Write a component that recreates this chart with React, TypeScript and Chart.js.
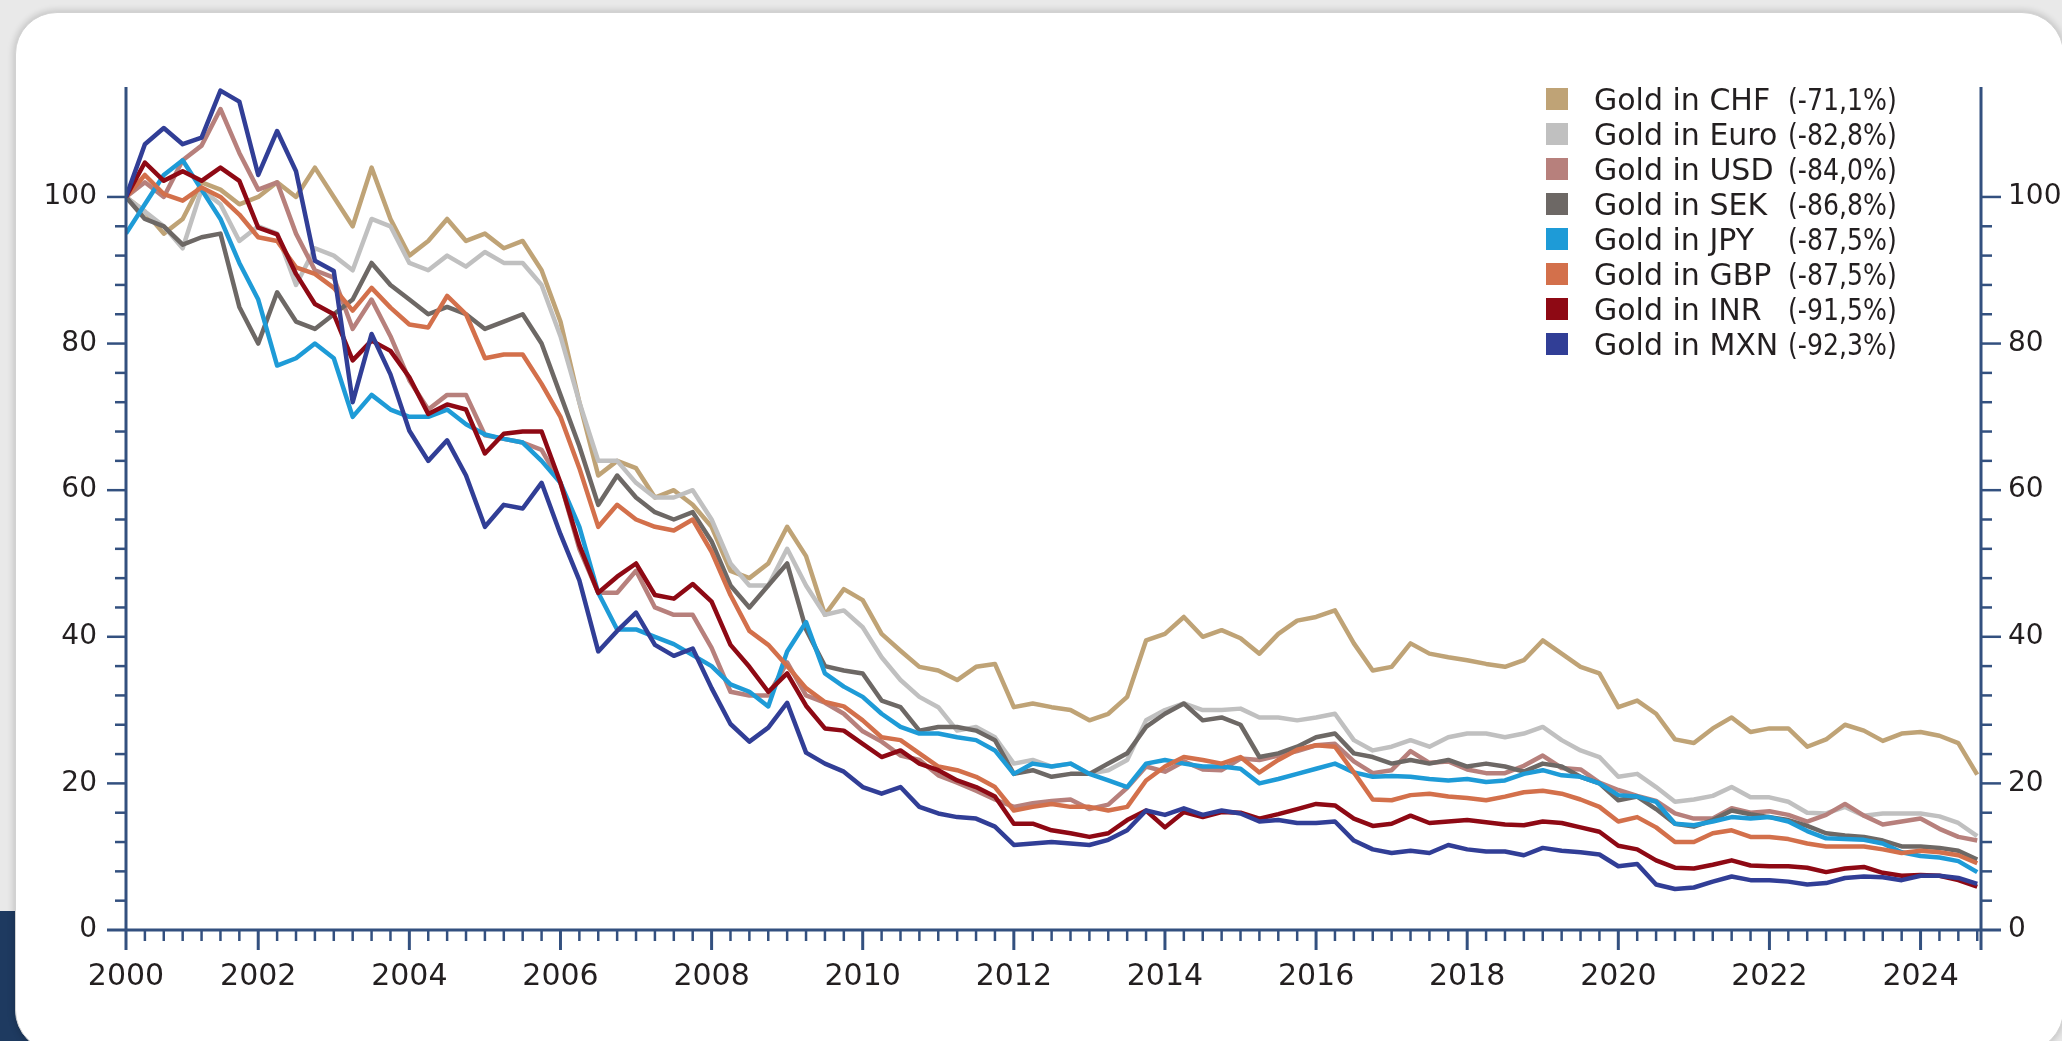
import React, { useEffect, useRef } from "react";
import { Chart, registerables } from "chart.js";

Chart.register(...registerables);

// ---------- data ----------
const quarterDates: number[] = [
  2000.25, 2000.5, 2000.75, 2001.0, 2001.25, 2001.5, 2001.75, 2002.0, 2002.25, 2002.5,
  2002.75, 2003.0, 2003.25, 2003.5, 2003.75, 2004.0, 2004.25, 2004.5, 2004.75, 2005.0,
  2005.25, 2005.5, 2005.75, 2006.0, 2006.25, 2006.5, 2006.75, 2007.0, 2007.25, 2007.5,
  2007.75, 2008.0, 2008.25, 2008.5, 2008.75, 2009.0, 2009.25, 2009.5, 2009.75, 2010.0,
  2010.25, 2010.5, 2010.75, 2011.0, 2011.25, 2011.5, 2011.75, 2012.0, 2012.25, 2012.5,
  2012.75, 2013.0, 2013.25, 2013.5, 2013.75, 2014.0, 2014.25, 2014.5, 2014.75, 2015.0,
  2015.25, 2015.5, 2015.75, 2016.0, 2016.25, 2016.5, 2016.75, 2017.0, 2017.25, 2017.5,
  2017.75, 2018.0, 2018.25, 2018.5, 2018.75, 2019.0, 2019.25, 2019.5, 2019.75, 2020.0,
  2020.25, 2020.5, 2020.75, 2021.0, 2021.25, 2021.5, 2021.75, 2022.0, 2022.25, 2022.5,
  2022.75, 2023.0, 2023.25, 2023.5, 2023.75, 2024.0, 2024.25, 2024.5, 2024.75,
];

const seriesNames: string[] = [
  "Gold in CHF", "Gold in Euro", "Gold in USD", "Gold in SEK",
  "Gold in JPY", "Gold in GBP", "Gold in INR", "Gold in MXN",
];
const seriesChanges: string[] = [
  "(-71,1%)", "(-82,8%)", "(-84,0%)", "(-86,8%)",
  "(-87,5%)", "(-87,5%)", "(-91,5%)", "(-92,3%)",
];

const chfValues: number[] = [
  100, 98, 95, 97, 102, 101, 99, 100, 102, 100,
  104, 100, 96, 104, 97, 92, 94, 97, 94, 95,
  93, 94, 90, 83, 72, 62, 64, 63, 59, 60,
  58, 55, 49, 48, 50, 55, 51, 43, 46.5, 45,
  40.4, 38.1, 35.9, 35.4, 34.1, 35.9, 36.3, 30.4, 30.9, 30.4,
  30, 28.6, 29.5, 31.8, 39.5, 40.4, 42.7, 40, 40.9, 39.8,
  37.7, 40.4, 42.2, 42.7, 43.6, 39.1, 35.4, 35.9, 39.1, 37.7,
  37.2, 36.8, 36.3, 35.9, 36.8, 39.5, 37.7, 35.9, 35, 30.4,
  31.3, 29.5, 26, 25.5, 27.5, 29, 27, 27.5, 27.5, 25,
  26, 28, 27.2, 25.8, 26.8, 27, 26.5, 25.5, 21.2,
];
const euroValues: number[] = [
  100, 98, 96, 93, 101, 99, 94, 96, 95, 88,
  93, 92, 90, 97, 96, 91, 90, 92, 90.5, 92.5,
  91, 91, 88, 81, 72, 64, 64, 61, 59, 59,
  60, 56, 50, 47, 47, 52, 47, 43, 43.6, 41.3,
  37.2, 34.1, 31.8, 30.4, 27.2, 27.7, 26.3, 22.7, 23.2, 22.3,
  22.7, 21.3, 21.8, 23.2, 28.6, 30, 30.9, 30, 30, 30.2,
  29, 29, 28.6, 29, 29.5, 25.9, 24.5, 25, 25.9, 25,
  26.3, 26.8, 26.8, 26.3, 26.8, 27.7, 25.9, 24.5, 23.6, 20.9,
  21.3, 19.5, 17.5, 17.8, 18.3, 19.5, 18.1, 18.1, 17.5, 16,
  15.9, 16.8, 15.6, 15.9, 15.9, 15.9, 15.5, 14.6, 12.8,
];
const usdValues: number[] = [
  100, 102, 100, 105, 107, 112, 106, 101, 102, 95,
  90, 89, 82, 86, 81, 75, 71, 73, 73, 67.5,
  67, 66.5, 65.5, 61, 52, 46, 46, 49, 44, 43,
  43, 38.5, 32.5, 32, 32, 36.5, 32, 31, 29.5, 27.1,
  25.7, 23.8, 23.2, 21.1, 20.1, 19, 17.8, 16.8, 17.3, 17.6,
  17.8, 16.5, 17.1, 19.4, 22.3, 21.6, 23, 21.9, 21.8, 23.4,
  23.2, 23.8, 24.4, 25.2, 25.4, 23, 21.4, 21.8, 24.4, 22.8,
  23, 21.9, 21.4, 21.4, 22.4, 23.8, 22.1, 21.9, 20.1, 19.1,
  18.3, 17.6, 15.9, 15.2, 15.2, 16.6, 16, 16.2, 15.7, 14.8,
  15.7, 17.2, 15.6, 14.4, 14.8, 15.2, 13.8, 12.7, 12.2,
];
const sekValues: number[] = [
  100, 97, 96, 93.5, 94.5, 95, 85, 80, 87, 83,
  82, 84, 86, 91, 88, 86, 84, 85, 84, 82,
  83, 84, 80, 73, 66, 58, 62, 59, 57, 56,
  57, 53, 47, 44, 47, 50, 41, 36, 35.4, 35,
  31.3, 30.4, 27.2, 27.7, 27.7, 27.2, 25.9, 21.3, 21.8, 20.9,
  21.3, 21.3, 22.7, 24.1, 27.7, 29.5, 30.9, 28.6, 29, 28,
  23.6, 24.1, 25, 26.3, 26.8, 24.1, 23.6, 22.7, 23.2, 22.7,
  23.2, 22.3, 22.7, 22.3, 21.6, 22.7, 22.3, 20.9, 20, 17.7,
  18.2, 16.5, 14.5, 14.1, 15, 16.3, 15.8, 15.4, 15, 14.2,
  13.2, 12.9, 12.7, 12.2, 11.4, 11.4, 11.2, 10.8, 9.6,
];
const jpyValues: number[] = [
  95, 99, 103, 105, 101, 97, 91, 86, 77, 78,
  80, 78, 70, 73, 71, 70, 70, 71, 69, 67.6,
  67, 66.5, 64, 61, 55, 46, 41, 41, 40, 39,
  37.5, 36, 33.5, 32.5, 30.5, 38, 42, 35, 33.2, 31.8,
  29.5, 27.7, 26.8, 26.8, 26.3, 25.9, 24.5, 21.3, 22.7, 22.3,
  22.7, 21.3, 20.4, 19.5, 22.7, 23.2, 22.7, 22.3, 22.3, 22,
  20, 20.6, 21.3, 22, 22.7, 21.5, 20.9, 21, 20.9, 20.6,
  20.4, 20.6, 20.2, 20.4, 21.3, 21.8, 21.1, 20.9, 20, 18.4,
  18.2, 17.5, 14.5, 14.3, 14.8, 15.4, 15.2, 15.4, 14.8, 13.5,
  12.5, 12.4, 12.3, 11.8, 10.6, 10.1, 9.9, 9.4, 7.9,
];
const gbpValues: number[] = [
  100, 103, 100.4, 99.5, 101.3, 100, 97.6, 94.5, 94, 90.4,
  89.5, 87.6, 84.5, 87.6, 84.9, 82.6, 82.2, 86.5, 84, 78,
  78.5, 78.5, 74.5, 70, 63, 55, 58, 56, 55, 54.5,
  56, 51.6, 45.7, 40.8, 38.9, 36, 33, 31.1, 30.5, 28.6,
  26.3, 25.9, 24.1, 22.3, 21.8, 20.9, 19.5, 16.3, 16.8, 17.2,
  16.8, 16.8, 16.3, 16.8, 20.4, 22.3, 23.6, 23.2, 22.7, 23.6,
  21.5, 23.2, 24.6, 25.2, 25, 21.5, 17.8, 17.7, 18.4, 18.6,
  18.2, 18, 17.7, 18.2, 18.8, 19, 18.6, 17.8, 16.8, 14.8,
  15.4, 14, 12, 12, 13.2, 13.6, 12.7, 12.7, 12.4, 11.8,
  11.4, 11.4, 11.4, 11, 10.5, 10.8, 10.6, 10.2, 9.1,
];
const inrValues: number[] = [
  100, 104.7, 102.2, 103.5, 102.2, 104, 102.2, 95.8, 94.9, 89.5,
  85.4, 84, 77.7, 80.4, 79, 75.4, 70.4, 71.7, 71, 65,
  67.7, 68, 68, 61, 52.5, 46, 48.2, 50, 45.7, 45.2,
  47.2, 44.8, 38.9, 35.9, 32.5, 35, 30.6, 27.5, 27.2, 25.4,
  23.6, 24.5, 22.7, 21.8, 20.4, 19.5, 18.2, 14.5, 14.5, 13.6,
  13.2, 12.7, 13.2, 15, 16.3, 14, 16.1, 15.4, 16.1, 16,
  15.2, 15.8, 16.5, 17.2, 17, 15.2, 14.2, 14.5, 15.6, 14.6,
  14.8, 15, 14.7, 14.4, 14.3, 14.8, 14.6, 14, 13.4, 11.5,
  11, 9.5, 8.5, 8.4, 8.9, 9.5, 8.8, 8.7, 8.7, 8.5,
  7.9, 8.4, 8.6, 7.8, 7.4, 7.5, 7.4, 6.8, 5.9,
];
const mxnValues: number[] = [
  100, 107.2, 109.4, 107.2, 108.1, 114.5, 113, 103, 109, 103.5,
  91.3, 89.9, 72, 81.3, 75.8, 68.1, 64, 66.8, 62, 55,
  58, 57.5, 61, 54, 47.7, 38, 40.8, 43.3, 38.9, 37.4,
  38.4, 33, 28.1, 25.7, 27.6, 31, 24.2, 22.7, 21.6, 19.5,
  18.6, 19.5, 16.8, 15.9, 15.4, 15.2, 14.1, 11.6, 11.8, 12,
  11.8, 11.6, 12.3, 13.6, 16.3, 15.7, 16.6, 15.7, 16.3, 15.9,
  14.8, 15, 14.6, 14.6, 14.8, 12.2, 11, 10.5, 10.8, 10.5,
  11.6, 11, 10.7, 10.7, 10.2, 11.2, 10.8, 10.6, 10.3, 8.7,
  9, 6.2, 5.6, 5.8, 6.6, 7.3, 6.8, 6.8, 6.6, 6.2,
  6.4, 7.1, 7.3, 7.2, 6.8, 7.4, 7.4, 7.1, 6.3,
];

const xTickValues: number[] = [2000.25, 2002, 2004, 2006, 2008, 2010, 2012, 2014, 2016, 2018, 2020, 2022, 2024];
const xTickLabels: string[] = ["2000", "2002", "2004", "2006", "2008", "2010", "2012", "2014", "2016", "2018", "2020", "2022", "2024"];
const yTickValues: number[] = [0, 20, 40, 60, 80, 100];

// ---------- styles ----------
const seriesColors = ["#bfa376", "#c0c0c0", "#b7807c", "#6d6865", "#1e9bd7", "#d3704b", "#8e0914", "#313e96"];
const FONT = '"DejaVu Sans", sans-serif';
const TEXT = "#231f20";
const AXIS = "#33507f";

const axisPlugin = {
  id: "axisFrame",
  afterDatasetsDraw(chart: any) {
    const { ctx, chartArea } = chart;
    const { left, right, top, bottom } = chartArea;
    const ys = chart.scales.y;
    const xs = chart.scales.x;
    ctx.save();
    ctx.strokeStyle = AXIS;
    ctx.lineCap = "butt";
    const seg = (x1: number, y1: number, x2: number, y2: number, w: number) => {
      ctx.lineWidth = w;
      ctx.beginPath();
      ctx.moveTo(x1, y1);
      ctx.lineTo(x2, y2);
      ctx.stroke();
    };
    seg(left, top, left, bottom + 20, 3);
    seg(right, top, right, bottom + 20, 3);
    seg(left - 19, bottom, right + 20, bottom, 3);
    for (let v = 4; v <= 100; v += 4) {
      const py = ys.getPixelForValue(v);
      const major = v % 20 === 0;
      seg(left - (major ? 19 : 11), py, left, py, 2.5);
      seg(right, py, right + (major ? 20 : 11), py, 2.5);
    }
    for (let q = 2000.5; q < 2024.79; q += 0.25) {
      const px = xs.getPixelForValue(q);
      const major = Number.isInteger(q) && q % 2 === 0;
      seg(px, bottom, px, bottom + (major ? 20 : 11), major ? 3 : 2.5);
    }
    ctx.restore();
  },
};

const legendPlugin = {
  id: "currencyLegend",
  afterDraw(chart: any) {
    const ctx = chart.ctx;
    ctx.save();
    ctx.font = `30px ${FONT}`;
    ctx.textBaseline = "alphabetic";
    seriesNames.forEach((name, i) => {
      const cy = 99 + i * 35;
      ctx.fillStyle = seriesColors[i];
      ctx.fillRect(1546, cy - 11, 22, 22);
      ctx.fillStyle = TEXT;
      ctx.fillText(name, 1594, cy + 11);
      const w = ctx.measureText(seriesChanges[i]).width;
      ctx.fillText(seriesChanges[i], 1788, cy + 11, w * 0.84);
    });
    ctx.restore();
  },
};

export default function App() {
  const ref = useRef<HTMLCanvasElement>(null);

  useEffect(() => {
    const canvas = ref.current;
    if (!canvas) return;
    const seriesValues = [chfValues, euroValues, usdValues, sekValues, jpyValues, gbpValues, inrValues, mxnValues];
    const datasets = seriesNames.map((name, i) => ({
      label: name,
      data: quarterDates.map((d, k) => ({ x: d, y: seriesValues[i][k] })),
      borderColor: seriesColors[i],
      backgroundColor: seriesColors[i],
      borderWidth: 4.5,
      pointRadius: 0,
      pointHoverRadius: 0,
      tension: 0,
      fill: false,
      borderJoinStyle: "round" as const,
      order: seriesNames.length - 1 - i,
      yAxisID: "y",
    }));

    const xFont = { size: 30, family: FONT };
    const yFont = { size: 28, family: FONT };
    const yTicksBuild = (s: any) => {
      s.ticks = yTickValues.map((v) => ({ value: v }));
    };

    const chart = new Chart(canvas, {
      type: "line",
      data: { datasets: datasets as any },
      options: {
        responsive: false,
        animation: false,
        layout: { padding: { top: 87, left: 0, right: 0, bottom: 0 } },
        plugins: { legend: { display: false }, tooltip: { enabled: false } },
        scales: {
          x: {
            type: "linear",
            min: 2000.25,
            max: 2024.8,
            afterBuildTicks: (s: any) => {
              s.ticks = xTickValues.map((v) => ({ value: v }));
            },
            afterFit: (s: any) => {
              s.height = 111;
            },
            grid: { display: false, drawTicks: false },
            border: { display: false },
            ticks: {
              autoSkip: false,
              maxRotation: 0,
              padding: 29,
              color: TEXT,
              font: xFont,
              callback: (value: any) => {
                const idx = xTickValues.indexOf(Number(value));
                return idx >= 0 ? xTickLabels[idx] : "";
              },
            },
          },
          y: {
            position: "left",
            min: 0,
            max: 115,
            afterBuildTicks: yTicksBuild,
            afterFit: (s: any) => {
              s.width = 126;
            },
            grid: { display: false, drawTicks: false },
            border: { display: false },
            ticks: { padding: 29, color: TEXT, font: yFont },
          },
          y2: {
            position: "right",
            min: 0,
            max: 115,
            afterBuildTicks: yTicksBuild,
            afterFit: (s: any) => {
              s.width = 81;
            },
            grid: { display: false, drawTicks: false },
            border: { display: false },
            ticks: { padding: 27, color: TEXT, font: yFont },
          },
        },
      } as any,
      plugins: [axisPlugin, legendPlugin],
    });
    return () => chart.destroy();
  }, []);

  return (
    <div style={{ position: "fixed", left: 0, top: 0, width: 2062, height: 1041, background: "#e9e9e9", overflow: "hidden" }}>
      <div style={{ position: "absolute", left: 0, top: 911, width: 60, height: 200, background: "#1e3a60" }} />
      <div
        style={{
          position: "absolute",
          left: 15,
          top: 12,
          width: 2049,
          height: 1040,
          background: "#ffffff",
          borderRadius: 42,
          border: "1px solid #d2d2d2",
          boxShadow: "0 0 6px 2px rgba(0,0,0,0.15)",
          boxSizing: "border-box",
        }}
      />
      <canvas ref={ref} width={2062} height={1041} style={{ position: "absolute", left: 0, top: 0, width: 2062, height: 1041 }} />
    </div>
  );
}
